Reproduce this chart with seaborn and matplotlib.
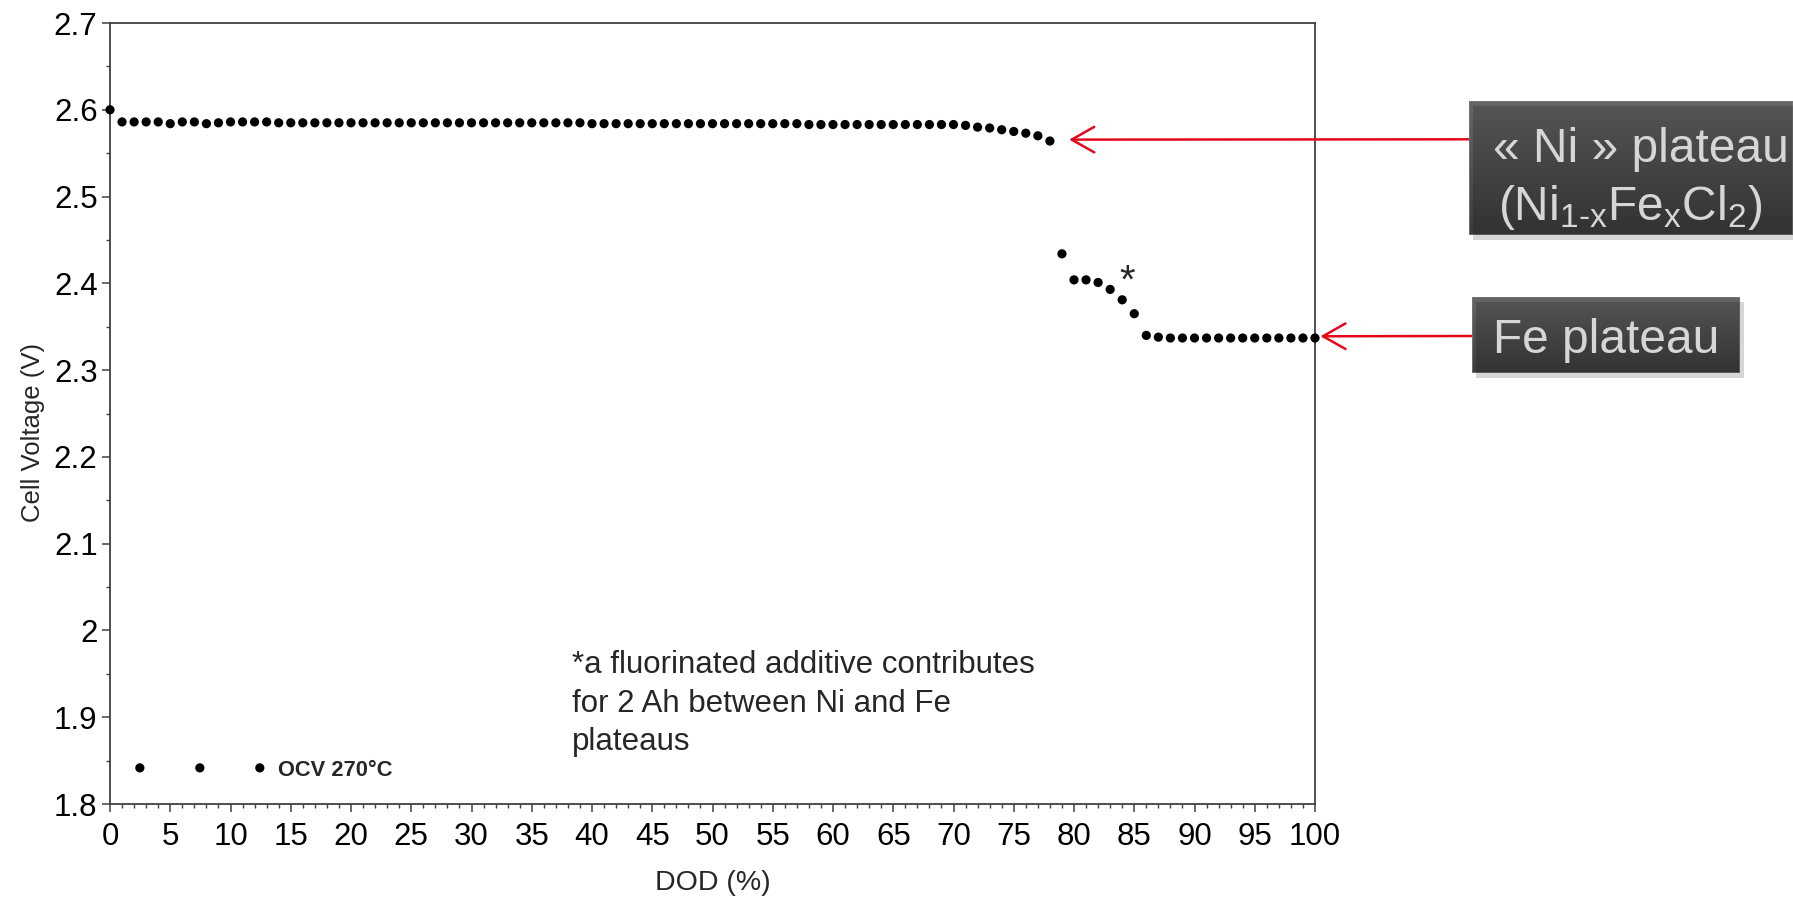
import numpy as np
import pandas as pd
import matplotlib
matplotlib.use("Agg")
import matplotlib.pyplot as plt
from matplotlib.ticker import MultipleLocator, FuncFormatter
from matplotlib.colors import LinearSegmentedColormap
from matplotlib.patches import Rectangle
from matplotlib import font_manager
import seaborn as sns

# ---------------- data ----------------
dod_ni = list(range(0, 79))
volt_ni = [2.600,
           2.586, 2.586, 2.586, 2.586, 2.584, 2.586, 2.586, 2.584, 2.585, 2.586,
           2.586, 2.586, 2.586, 2.585, 2.585, 2.585, 2.585, 2.585, 2.585, 2.585,
           2.585, 2.585, 2.585, 2.585, 2.585, 2.585, 2.585, 2.585, 2.585, 2.585,
           2.585, 2.585, 2.585, 2.585, 2.585, 2.585, 2.585, 2.585, 2.585, 2.584,
           2.584, 2.584, 2.584, 2.584, 2.584, 2.584, 2.584, 2.584, 2.584, 2.584,
           2.584, 2.584, 2.584, 2.584, 2.584, 2.584, 2.584, 2.583, 2.583, 2.583,
           2.583, 2.583, 2.583, 2.583, 2.583, 2.583, 2.583, 2.583, 2.583, 2.583,
           2.582, 2.580, 2.579, 2.577, 2.575, 2.573, 2.570, 2.564]
dod_fe = list(range(79, 101))
volt_fe = [2.434, 2.404, 2.404, 2.401, 2.393, 2.381, 2.365, 2.340, 2.338, 2.337,
           2.337, 2.337, 2.337, 2.337, 2.337, 2.337, 2.337, 2.337, 2.337, 2.337,
           2.337, 2.337]

series_label = "OCV 270°C"
x_label = "DOD (%)"
y_label = "Cell Voltage (V)"
note_text = "*a fluorinated additive contributes\nfor 2 Ah between Ni and Fe\nplateaus"
ni_box_lines = ["« Ni » plateau",
                r"(Ni$_{\mathregular{1\text{-}x}}$Fe$_{\mathregular{x}}$Cl$_{\mathregular{2}}$)"]
fe_box_text = "Fe plateau"

df = pd.DataFrame({"DOD": dod_ni + dod_fe, "V": volt_ni + volt_fe})

# ---------------- style ----------------
sns.set_theme(style="ticks")
plt.rcParams['font.family'] = ['Liberation Sans', 'DejaVu Sans']
plt.rcParams['mathtext.fontset'] = 'custom'
plt.rcParams['mathtext.rm'] = 'Liberation Sans'

installed = {f.name for f in font_manager.fontManager.ttflist}
has_narrow = 'Liberation Sans Narrow' in installed
narrow = ['Liberation Sans Narrow', 'Liberation Sans', 'DejaVu Sans'] if has_narrow \
    else ['Liberation Sans', 'DejaVu Sans']
nscale = 1.0 if has_narrow else 0.85

W, H = 1793, 898
fig = plt.figure(figsize=(W / 100, H / 100), dpi=100)
ax = fig.add_axes([110 / W, 1 - 804 / H, 1205 / W, 781 / H])

sns.scatterplot(data=df, x="DOD", y="V", color="black", s=44, edgecolor="none",
                label=series_label, ax=ax, clip_on=False, zorder=3)

ax.set_xlim(0, 100)
ax.set_ylim(1.8, 2.7)
ax.xaxis.set_major_locator(MultipleLocator(5))
ax.xaxis.set_minor_locator(MultipleLocator(1))
ax.yaxis.set_major_locator(MultipleLocator(0.1))
ax.yaxis.set_minor_locator(MultipleLocator(0.05))
ax.yaxis.set_major_formatter(FuncFormatter(lambda v, p: f"{v:g}"))
ax.tick_params(axis="both", which="major", direction="out", length=6, width=1.1,
               color="#404040", labelcolor="black", pad=3, labelsize=22.5)
ax.tick_params(axis="both", which="minor", direction="out", length=3, width=1.0,
               color="#404040")
ax.tick_params(axis="x", which="major", pad=7)
for s in ax.spines.values():
    s.set_color("#404040")
    s.set_linewidth(1.3)

ax.set_xlabel(x_label, fontsize=20.5, labelpad=13)
ax.set_ylabel(y_label, fontsize=18.5)
ax.yaxis.set_label_coords(-0.054, 0.476)

# legend with three points
fs_leg = 18.5 * nscale
leg = ax.legend(loc="center left", bbox_to_anchor=((133.3 - 110) / 1205, (804 - 770) / 781),
                frameon=False, scatterpoints=3, scatteryoffsets=[0.5],
                handlelength=7.37 * 13 / fs_leg, handletextpad=0.64 * 13 / fs_leg,
                borderpad=0, borderaxespad=0,
                prop={"size": fs_leg, "weight": "bold", "family": narrow})

# note and asterisk
ax.text(38.3, 1.977, note_text, fontsize=22.5, ha="left", va="top", linespacing=1.36)
ax.text(84.4, 2.389, "*", fontsize=29, ha="center", va="baseline")

# arrows
red = "#e4081c"
for tip, start in [((79.6, 2.5656), (1469, 139.3)), ((100.45, 2.339), (1472, 336))]:
    ax.annotate("", xy=tip, xycoords="data",
                xytext=(start[0] / W, 1 - start[1] / H), textcoords="figure fraction",
                arrowprops=dict(arrowstyle="->, head_length=0.6, head_width=0.34",
                                color=red, lw=1.8, mutation_scale=27,
                                shrinkA=0, shrinkB=0), annotation_clip=False)

# dark boxes
cmap = LinearSegmentedColormap.from_list("g", ["#666666", "#3c3c3c"])
grad = np.linspace(0, 1, 256).reshape(-1, 1)


def dark_box(x0, y0, x1, y1):
    fig.patches.append(Rectangle((x0 / W + 4 / W, 1 - (y1 + 5) / H), (x1 - x0) / W,
                                 (y1 - y0) / H, transform=fig.transFigure,
                                 facecolor="#000000", alpha=0.16, edgecolor="none",
                                 zorder=0))
    bax = fig.add_axes([x0 / W, 1 - y1 / H, (x1 - x0) / W, (y1 - y0) / H])
    bax.imshow(grad, aspect="auto", cmap=cmap, extent=[0, 1, 0, 1], origin="upper")
    bax.add_patch(Rectangle((0, 0), 1, 1, transform=bax.transAxes, fill=False,
                            edgecolor="#777777", lw=1.2))
    bax.set_xlim(0, 1)
    bax.set_ylim(0, 1)
    bax.axis("off")
    return bax


b1 = dark_box(1469, 101, 1793, 235)
b1.text(0.532, 0.635, ni_box_lines[0], color="white", fontsize=34.5, ha="center",
        va="center", transform=b1.transAxes)
b1.text(0.497, 0.205, ni_box_lines[1], color="white", fontsize=34.5, ha="center",
        va="center", transform=b1.transAxes)

b2 = dark_box(1472, 297, 1740, 373)
b2.text(0.5, 0.43, fe_box_text, color="white", fontsize=34.5, ha="center",
        va="center", transform=b2.transAxes)

fig.savefig("out.png", dpi=100)
